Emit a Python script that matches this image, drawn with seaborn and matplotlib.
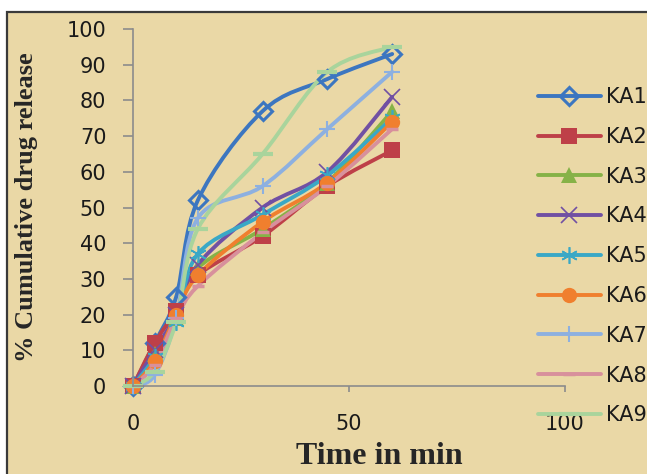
import numpy as np
import matplotlib
matplotlib.use("Agg")
import matplotlib.pyplot as plt
import seaborn as sns
from matplotlib.path import Path
from matplotlib.patches import PathPatch, Rectangle
from matplotlib.lines import Line2D

# ---------------- data ----------------
time_min = [0, 5, 10, 15, 30, 45, 60]
KA1 = [0, 12, 25, 52, 77, 86, 93]
KA2 = [0, 12, 21, 31, 42, 56, 66]
KA3 = [0, 9, 19, 33, 44, 57, 77]
KA4 = [0, 10, 20, 34, 50, 60, 81]
KA5 = [0, 8, 18, 37, 48, 59, 75]
KA6 = [0, 7, 20, 31, 46, 57, 74]
KA7 = [0, 3, 19, 47, 56, 72, 88]
KA8 = [0, 6, 19, 28, 43, 56, 72]
KA9 = [0, 4, 18, 44, 65, 88, 95]
series_names = ["KA1", "KA2", "KA3", "KA4", "KA5", "KA6", "KA7", "KA8", "KA9"]
series_values = [KA1, KA2, KA3, KA4, KA5, KA6, KA7, KA8, KA9]
x_ticks = [0, 50, 100]
y_ticks = [0, 10, 20, 30, 40, 50, 60, 70, 80, 90, 100]

# ---------------- styles ----------------
colors = ["#3C76C0", "#BE4048", "#86B247", "#7150A3", "#3AA8C6",
          "#F07F2E", "#8DB0E0", "#D8909C", "#A9D49C"]
styles = [
    dict(marker="D", ms=9, mfc="none", mew=2.2),
    dict(marker="s", ms=12, mew=0),
    dict(marker="^", ms=11, mew=0),
    dict(marker="x", ms=11, mew=1.2),
    dict(marker=(6, 2, 0), ms=12, mew=1.2),
    dict(marker="o", ms=11, mew=0),
    dict(marker="+", ms=11, mew=1.5),
    dict(marker="_", ms=8, mew=2.5),
    dict(marker="_", ms=14, mew=3),
]

sns.set_style("ticks")
plt.rcParams["font.family"] = ["DejaVu Sans"]

W, H = 647, 474
fig = plt.figure(figsize=(W / 100, H / 100), dpi=100, facecolor="white")

# papyrus-like panel with dark frame
bg = "#EAD8A6"
fig.patches.append(Rectangle((7 / W, -0.02), 1.05, 1 - 12 / H + 0.02,
                             transform=fig.transFigure, facecolor=bg,
                             edgecolor="#3a3a3a", lw=1.6, zorder=-10))

ax = fig.add_axes([133 / W, 1 - 386 / H, 432 / W, 357 / H])
ax.set_facecolor("none")


def smooth_path(xs, ys, t=1 / 6):
    pts = np.column_stack([xs, ys]).astype(float)
    n = len(pts)
    verts = [pts[0]]
    codes = [Path.MOVETO]
    for i in range(n - 1):
        p_prev = pts[i - 1] if i > 0 else pts[i]
        p0 = pts[i]
        p1 = pts[i + 1]
        p_next = pts[i + 2] if i + 2 < n else pts[i + 1]
        c1 = p0 + (p1 - p_prev) * t
        c2 = p1 - (p_next - p0) * t
        verts += [c1, c2, p1]
        codes += [Path.CURVE4] * 3
    return Path(verts, codes)


handles = []
for name, vals, col, st in zip(series_names, series_values, colors, styles):
    patch = PathPatch(smooth_path(time_min, vals), facecolor="none",
                      edgecolor=col, lw=2.8, capstyle="round",
                      joinstyle="round", clip_on=False)
    ax.add_patch(patch)
    mk = dict(st)
    if mk.get("mfc") != "none":
        mk["mfc"] = col
    sns.lineplot(x=time_min, y=vals, ax=ax, color=col, linestyle="none",
                 marker=mk["marker"], markersize=mk["ms"],
                 markerfacecolor=mk["mfc"], markeredgecolor=col,
                 markeredgewidth=mk["mew"], clip_on=False, errorbar=None)
    handles.append(Line2D([], [], color=col, lw=2.8, marker=mk["marker"],
                          markersize=mk["ms"], markerfacecolor=mk["mfc"],
                          markeredgecolor=col, markeredgewidth=mk["mew"]))

ax.set_xlim(0, 100)
ax.set_ylim(0, 100)
ax.set_xticks(x_ticks)
ax.set_yticks(y_ticks)
ax.set_xticklabels([str(v) for v in x_ticks])
ax.set_yticklabels([str(v) for v in y_ticks])

for s in ["top", "right"]:
    ax.spines[s].set_visible(False)
for s in ["left", "bottom"]:
    ax.spines[s].set_color("#8C8C8C")
    ax.spines[s].set_linewidth(1.2)

ax.tick_params(axis="y", direction="out", length=7.2, width=1.2,
               color="#8C8C8C", pad=12, labelsize=15, labelcolor="#1a1a1a")
ax.tick_params(axis="x", direction="out", length=4.3, width=1.2,
               color="#8C8C8C", pad=16, labelsize=15, labelcolor="#1a1a1a")

ax.set_xlabel("Time in min", fontfamily="Liberation Serif", fontweight="bold",
              fontsize=23, va="center")
ax.xaxis.set_label_coords((379 - 133) / 432, (386 - 456) / 357)
ax.set_ylabel("% Cumulative drug release", fontfamily="Liberation Serif",
              fontweight="bold", fontsize=19, va="center")
ax.yaxis.set_label_coords((27 - 133) / 432, 0.5)

leg = ax.legend(handles, series_names, loc="upper left",
                bbox_to_anchor=(538 / W, 1 - 87 / H),
                bbox_transform=fig.transFigure, frameon=False,
                borderpad=0, borderaxespad=0, handlelength=3.0,
                handletextpad=0.25, labelspacing=0.95, fontsize=15)
for t in leg.get_texts():
    t.set_color("#1a1a1a")

fig.savefig("out.png", dpi=100, facecolor="white")
